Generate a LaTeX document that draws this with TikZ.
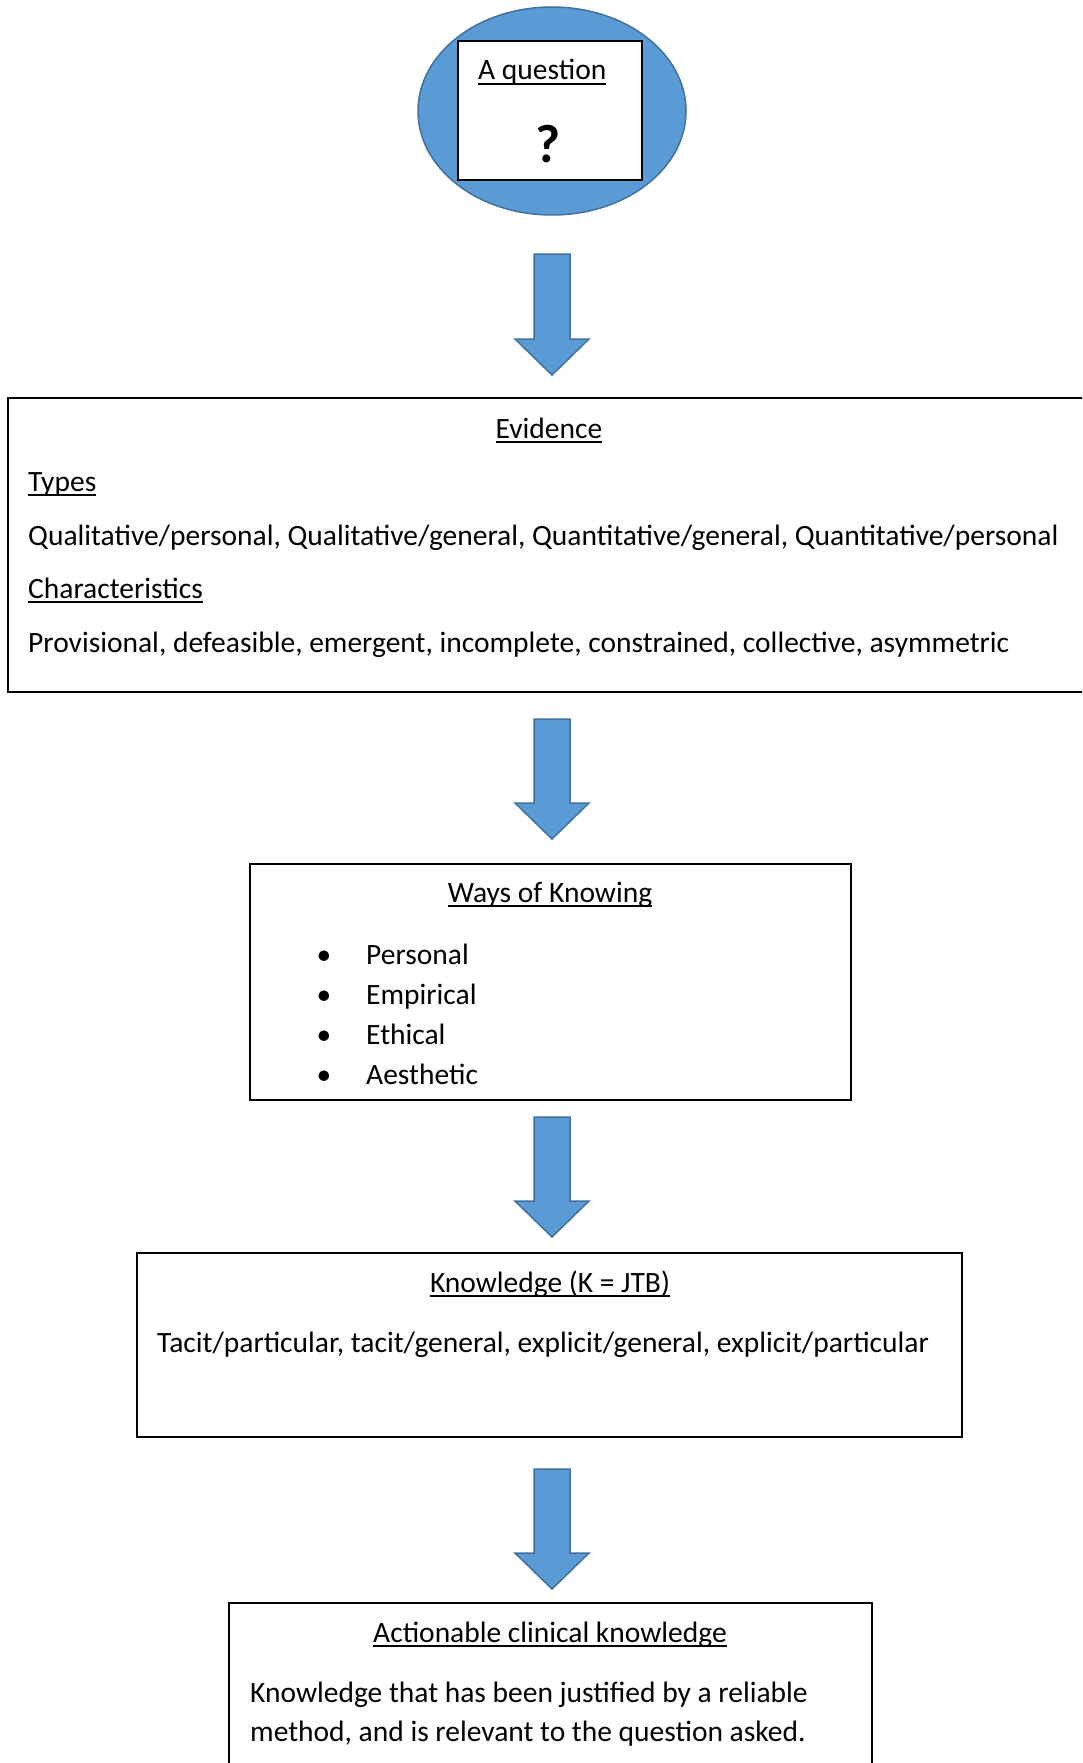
\documentclass[tikz,border=0pt]{standalone}
\usepackage{fontspec}
\setmainfont{Carlito}
\usetikzlibrary{shapes.geometric,calc}
\definecolor{fillblue}{HTML}{5B9BD5}
\definecolor{edgeblue}{HTML}{41719C}
\newcommand{\myul}[1]{\setbox0\hbox{#1}\rlap{\rule[-5pt]{\wd0}{1.9pt}}\box0}
\newcommand{\bigarrow}[2]{%
  \draw[arrowstyle] ($(#1)+(-18,0)$) -- ($(#2)+(-18,-36)$) -- ($(#2)+(-37,-36)$) -- (#2)
    -- ($(#2)+(37,-36)$) -- ($(#2)+(18,-36)$) -- ($(#1)+(18,0)$) -- cycle;}
\begin{document}
\begin{tikzpicture}[x=1pt,y=-1pt,
  txt/.style={inner sep=0pt, font=\fontsize{29.5}{35}\selectfont},
  box/.style={draw=black, line width=1.2pt, inner sep=0pt},
  arrowstyle/.style={fill=fillblue, draw=edgeblue, line width=1.5pt, line join=miter}]
\clip (0,0) rectangle (1082,1763);
\fill[white] (0,0) rectangle (1082,1763);
% question
\node[ellipse, draw=edgeblue, fill=fillblue, line width=1.5pt, minimum width=268pt, minimum height=208pt, inner sep=0pt] (q) at (552,111) {};
\node[box, fill=white, minimum width=184pt, minimum height=139pt] (qbox) at (550,110.5) {};
\node[txt, anchor=base west] (qt) at (478,80) {\myul{A question}};
\node[inner sep=0pt, anchor=base, font=\bfseries\fontsize{54}{60}\selectfont] (qm) at (548,163) {?};
% arrows
\coordinate (a1t) at (552,254); \coordinate (a1b) at (552,375);
\coordinate (a2t) at (552,719); \coordinate (a2b) at (552,839);
\coordinate (a3t) at (552,1117); \coordinate (a3b) at (552,1237);
\coordinate (a4t) at (552,1469); \coordinate (a4b) at (552,1589);
\bigarrow{a1t}{a1b}
\bigarrow{a2t}{a2b}
\bigarrow{a3t}{a3b}
\bigarrow{a4t}{a4b}
% evidence
\node[box, minimum width=1092pt, minimum height=294pt] (ev) at (554,545) {};
\node[txt, anchor=base] (evt) at (549,438) {\myul{Evidence}};
\node[txt, anchor=base west] (ty) at (28,491) {\myul{Types}};
\node[txt, anchor=base west] (tyl) at (28,545) {Qualitative/personal, Qualitative/general, Quantitative/general, Quantitative/personal};
\node[txt, anchor=base west] (ch) at (28,598) {\myul{Characteristics}};
\node[txt, anchor=base west] (chl) at (28,652) {Provisional, defeasible, emergent, incomplete, constrained, collective, asymmetric};
% ways of knowing
\node[box, minimum width=601pt, minimum height=236pt] (wk) at (550.5,982) {};
\node[txt, anchor=base] (wkt) at (550,902) {\myul{Ways of Knowing}};
\node[txt, anchor=base] (b1) at (324,964) {•};
\node[txt, anchor=base west] (w1) at (366,964) {Personal};
\node[txt, anchor=base] (b2) at (324,1004) {•};
\node[txt, anchor=base west] (w2) at (366,1004) {Empirical};
\node[txt, anchor=base] (b3) at (324,1044) {•};
\node[txt, anchor=base west] (w3) at (366,1044) {Ethical};
\node[txt, anchor=base] (b4) at (324,1084) {•};
\node[txt, anchor=base west] (w4) at (366,1084) {Aesthetic};
% knowledge
\node[box, minimum width=825pt, minimum height=184pt] (kn) at (549.5,1345) {};
\node[txt, anchor=base] (knt) at (550,1292) {\myul{Knowledge (K = JTB)}};
\node[txt, anchor=base west] (knl) at (157,1352) {Tacit/particular, tacit/general, explicit/general, explicit/particular};
% actionable
\node[box, minimum width=643pt, minimum height=397pt] (ac) at (550.5,1801.5) {};
\node[txt, anchor=base] (act) at (550,1642) {\myul{Actionable clinical knowledge}};
\node[txt, anchor=base west] (acl1) at (250,1702) {Knowledge that has been justified by a reliable};
\node[txt, anchor=base west] (acl2) at (250,1741) {method, and is relevant to the question asked.};
\end{tikzpicture}
\end{document}
